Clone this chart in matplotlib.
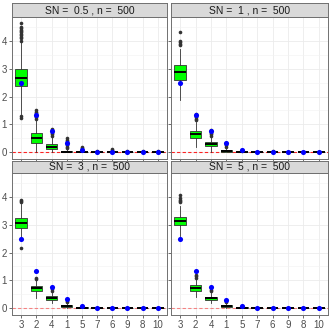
import numpy as np
import matplotlib
matplotlib.use('Agg')
import matplotlib.pyplot as plt

plt.rcParams['font.family'] = ['Liberation Sans', 'DejaVu Sans']

cats = ['3', '2', '4', '1', '5', '7', '6', '9', '8', '10']
titles = ['SN =  0.5 , n =  500', 'SN =  1 , n =  500',
          'SN =  3 , n =  500', 'SN =  5 , n =  500']

# box stats per panel (one value per category)
q1_05 = [2.36, 0.35, 0.13, 0.00, 0.00, 0.0, 0.0, 0.0, 0.0, 0.0]
med_05 = [2.68, 0.52, 0.20, 0.02, 0.01, 0.0, 0.0, 0.0, 0.0, 0.0]
q3_05 = [3.00, 0.68, 0.30, 0.05, 0.02, 0.01, 0.01, 0.01, 0.01, 0.01]
lo_05 = [1.36, 0.00, 0.00, 0.00, 0.00, 0.0, 0.0, 0.0, 0.0, 0.0]
hi_05 = [3.95, 1.15, 0.55, 0.12, 0.05, 0.02, 0.02, 0.02, 0.02, 0.02]
fl_05 = [[4.0, 4.1, 4.15, 4.2, 4.25, 4.3, 4.35, 4.4, 4.45, 4.5, 4.62, 1.3, 1.22],
         [1.2, 1.25, 1.3, 1.35, 1.4, 1.45, 1.5],
         [0.6, 0.65, 0.7, 0.75, 0.8, 0.85],
         [0.15, 0.2, 0.25, 0.3, 0.35, 0.4, 0.45, 0.5],
         [0.08, 0.12, 0.15, 0.18],
         [0.04], [0.06, 0.1, 0.12], [0.04], [0.04], [0.05]]
blue_05 = [2.48, 1.33, 0.78, 0.33, 0.10, 0.01, 0.01, 0.01, 0.01, 0.01]

q1_1 = [2.60, 0.50, 0.22, 0.02, 0.00, 0.0, 0.0, 0.0, 0.0, 0.0]
med_1 = [2.88, 0.65, 0.30, 0.05, 0.01, 0.0, 0.0, 0.0, 0.0, 0.0]
q3_1 = [3.12, 0.78, 0.38, 0.08, 0.02, 0.01, 0.01, 0.01, 0.01, 0.01]
lo_1 = [1.88, 0.20, 0.00, 0.00, 0.00, 0.0, 0.0, 0.0, 0.0, 0.0]
hi_1 = [3.70, 1.10, 0.55, 0.15, 0.04, 0.02, 0.02, 0.02, 0.02, 0.02]
fl_1 = [[3.85, 3.9, 3.95, 4.0, 4.32],
        [1.15, 1.2, 1.25, 1.3, 1.38],
        [0.6, 0.65, 0.7, 0.75, 0.8],
        [0.2, 0.25, 0.3, 0.35],
        [0.06, 0.1], [], [0.04], [], [], []]
blue_1 = [2.48, 1.35, 0.78, 0.33, 0.10, 0.01, 0.01, 0.01, 0.01, 0.01]

q1_3 = [2.87, 0.62, 0.30, 0.05, 0.00, 0.0, 0.0, 0.0, 0.0, 0.0]
med_3 = [3.05, 0.72, 0.37, 0.08, 0.01, 0.0, 0.0, 0.0, 0.0, 0.0]
q3_3 = [3.23, 0.80, 0.45, 0.12, 0.03, 0.01, 0.01, 0.01, 0.01, 0.01]
lo_3 = [2.45, 0.38, 0.18, 0.00, 0.00, 0.0, 0.0, 0.0, 0.0, 0.0]
hi_3 = [3.75, 1.00, 0.55, 0.20, 0.06, 0.02, 0.02, 0.02, 0.02, 0.02]
fl_3 = [[3.8, 3.85, 3.9, 2.15],
        [1.05, 1.1],
        [0.62, 0.68],
        [0.22, 0.25],
        [0.08], [], [], [], [], []]
blue_3 = [2.48, 1.32, 0.78, 0.33, 0.09, 0.01, 0.01, 0.01, 0.01, 0.01]

q1_5 = [2.98, 0.62, 0.30, 0.05, 0.00, 0.0, 0.0, 0.0, 0.0, 0.0]
med_5 = [3.12, 0.72, 0.37, 0.09, 0.01, 0.0, 0.0, 0.0, 0.0, 0.0]
q3_5 = [3.28, 0.82, 0.42, 0.12, 0.03, 0.01, 0.01, 0.01, 0.01, 0.01]
lo_5 = [2.60, 0.40, 0.20, 0.00, 0.00, 0.0, 0.0, 0.0, 0.0, 0.0]
hi_5 = [3.65, 1.05, 0.55, 0.20, 0.06, 0.02, 0.02, 0.02, 0.02, 0.02]
fl_5 = [[3.8, 3.85, 3.9, 3.95, 4.05],
        [1.1, 1.15, 1.2],
        [0.62, 0.66],
        [0.22, 0.25],
        [0.08], [], [], [], [], []]
blue_5 = [2.48, 1.35, 0.78, 0.30, 0.08, 0.01, 0.01, 0.01, 0.01, 0.01]

panels = [(q1_05, med_05, q3_05, lo_05, hi_05, fl_05, blue_05),
          (q1_1, med_1, q3_1, lo_1, hi_1, fl_1, blue_1),
          (q1_3, med_3, q3_3, lo_3, hi_3, fl_3, blue_3),
          (q1_5, med_5, q3_5, lo_5, hi_5, fl_5, blue_5)]

W = H = 332.0
def rect(x0, y0, x1, y1):
    return [x0 / W, 1 - y1 / H, (x1 - x0) / W, (y1 - y0) / H]

ax_px = [(12, 17, 167, 159), (171, 17, 328, 159),
         (12, 173, 167, 315), (171, 173, 328, 315)]
strip_px = [(12, 3.3, 167, 17), (171, 3.3, 328, 17),
            (12, 160.7, 167, 173), (171, 160.7, 328, 173)]
border = '#707070'

fig = plt.figure(figsize=(3.32, 3.32), dpi=100)
fig.patch.set_facecolor('white')
pos = np.arange(1, len(cats) + 1)

for i, (q1, med, q3, lo, hi, fl, blue) in enumerate(panels):
    ax = fig.add_axes(rect(*ax_px[i]))
    stats = []
    for k in range(len(cats)):
        stats.append(dict(q1=q1[k], med=med[k], q3=q3[k], whislo=lo[k],
                          whishi=hi[k], fliers=fl[k]))
    ax.set_axisbelow(True)
    ax.axhline(0, color='red', ls=(0, (3, 2)), lw=0.8, zorder=1.5,
               alpha=0.85 if i < 2 else 0.45)
    ax.bxp(stats, positions=pos, widths=0.75, patch_artist=True, showcaps=False,
           boxprops=dict(facecolor='#00FF00', edgecolor='#333333', lw=0.6),
           medianprops=dict(color='black', lw=1.4),
           whiskerprops=dict(color='#333333', lw=0.6),
           flierprops=dict(marker='o', markersize=2.6, markerfacecolor='#333333',
                           markeredgecolor='none'))
    ax.plot(pos, blue, 'o', color='blue', markersize=3.7, markeredgewidth=0, zorder=4)
    ax.set_xlim(0.4, 10.6)
    ax.set_ylim(-0.24, 4.85)
    ax.set_yticks([0, 1, 2, 3, 4])
    ax.set_yticks([0.5, 1.5, 2.5, 3.5, 4.5], minor=True)
    ax.set_xticks(pos)
    ax.set_xticklabels(cats)
    ax.grid(which='major', color='#EBEBEB', lw=0.6)
    ax.grid(which='minor', axis='y', color='#F2F2F2', lw=0.4)
    ax.tick_params(which='major', labelsize=7, labelcolor='#4D4D4D',
                   color='#333333', length=2, width=0.5, pad=1.5)
    ax.tick_params(which='minor', length=0)
    if i % 2 == 1:
        ax.tick_params(labelleft=False)
    if i < 2:
        ax.tick_params(labelbottom=False)
    for s in ax.spines.values():
        s.set_color(border)
        s.set_linewidth(0.7)

    sax = fig.add_axes(rect(*strip_px[i]))
    sax.set_facecolor('#D9D9D9')
    sax.set_xticks([])
    sax.set_yticks([])
    for s in sax.spines.values():
        s.set_color(border)
        s.set_linewidth(0.7)
    sax.text(0.5, 0.5, titles[i], ha='center', va='center', fontsize=7.5,
             color='#1A1A1A', transform=sax.transAxes)

fig.savefig('out.png', dpi=100)
